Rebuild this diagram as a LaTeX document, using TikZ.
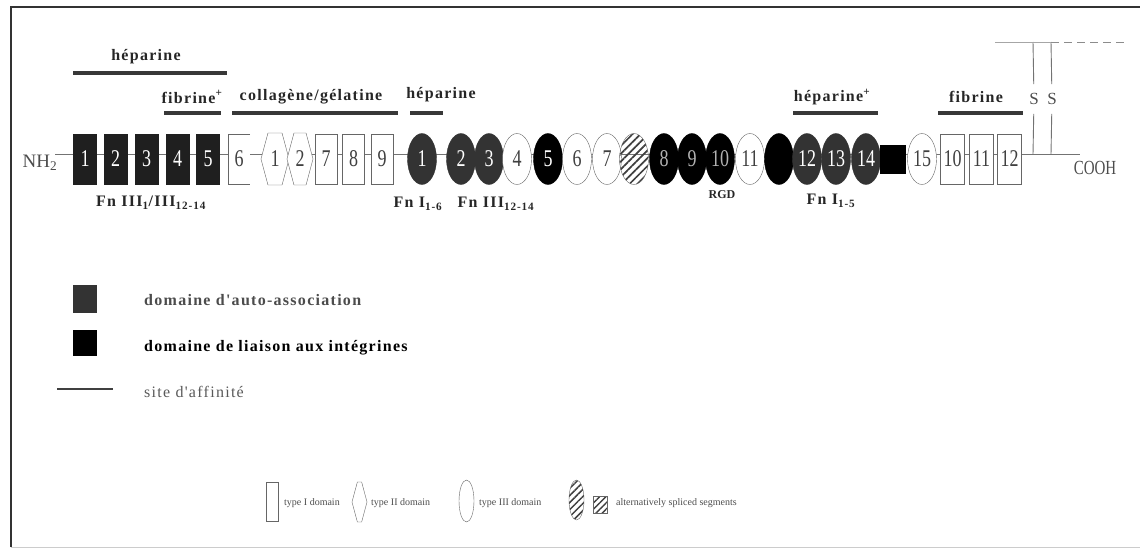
\documentclass[tikz,border=0pt]{standalone}
\usepackage{fontspec}
\setmainfont{Liberation Serif}
\newfontfamily\lblfont[LetterSpace=8]{Liberation Serif}
\newfontfamily\numfont[FakeStretch=0.75]{Liberation Serif}
\usepackage{tikz}
\usetikzlibrary{shapes.geometric, shapes.symbols, patterns.meta}

\begin{document}
\begin{tikzpicture}[
  x=1pt, y=-1pt,
  box/.style={
    draw=black!60,
    fill=white,
    minimum width=23pt,
    minimum height=50pt,
    inner sep=0pt,
    text=black!75,
    font=\fontsize{24}{24}\numfont
  },
  autobox/.style={box, draw=black!88, fill=black!88, text=white},
  hexa/.style={box, signal, signal to=west and east, signal pointer angle=150,
    minimum width=28pt, minimum height=52pt},
  oval/.style={box, ellipse, minimum width=29pt, minimum height=51pt},
  autooval/.style={oval, draw=black!80, fill=black!80, text=white},
  integoval/.style={oval, draw=black, fill=black, text=black!30},
  splice/.style={oval, draw=black!60,
    pattern={Lines[angle=45, distance=5.5pt, line width=1.7pt]}, pattern color=black!75},
  label/.style={font=\fontsize{16}{18}\lblfont\bfseries, text=black!85, inner sep=1pt},
  site/.style={line width=3.4pt, draw=black!78},
  bond/.style={line width=0.9pt, draw=black!55},
  small/.style={font=\fontsize{10}{12}\selectfont, text=black!70, anchor=west, inner sep=0pt}
]
  % frame
  \useasboundingbox (0,0) rectangle (1140,549);
  \draw[line width=2pt, black!80] (11,547) -- (11,7) -- (1140,7);
  \draw[line width=1pt, black!20] (11,547) -- (1140,547);

  % backbone
  \coordinate (nterm) at (55,154);
  \coordinate (cterm) at (1080,154);
  \draw[bond] (nterm) -- (cterm);
  \node[font=\fontsize{19}{19}\selectfont, text=black!70, inner sep=0pt] (nh) at (40,163) {NH\textsubscript{2}};
  \node[font=\fontsize{20}{20}\numfont, text=black!70, inner sep=0pt] (cooh) at (1095,168) {COOH};

  % type I (self-association)
  \node[autobox] (d1) at (85,159) {1};
  \node[autobox] (d2) at (115.5,159) {2};
  \node[autobox] (d3) at (146.5,159) {3};
  \node[autobox] (d4) at (177.5,159) {4};
  \node[autobox] (d5) at (208,159) {5};
  \node[box, draw=none, minimum width=22pt] (d6) at (239,159) {6};
  \draw[black!60] (d6.north east) -- (d6.north west) -- (d6.south west) -- (d6.south east);

  % type II
  \node[hexa] (h1) at (275,159) {1};
  \node[hexa, minimum width=26pt] (h2) at (300,159) {2};

  \node[box, minimum width=22pt] (d7) at (326,159) {7};
  \node[box, minimum width=22pt] (d8) at (353.5,159) {8};
  \node[box, minimum width=22pt] (d9) at (382,159) {9};

  % type III
  \node[autooval] (t1) at (422,159) {1};
  \node[autooval] (t2) at (461,159) {2};
  \node[autooval] (t3) at (489,159) {3};
  \node[oval] (t4) at (517,159) {4};
  \node[integoval, text=white] (t5) at (548,159) {5};
  \node[oval] (t6) at (577,159) {6};
  \node[oval] (t7) at (607,159) {7};
  \node[splice] (eiiib) at (634,159) {};
  \node[integoval] (t8) at (664,159) {8};
  \node[integoval] (t9) at (692,159) {9};
  \node[integoval] (t10) at (720,159) {10};
  \node[oval] (t11) at (750,159) {11};
  \node[integoval] (eiiia) at (779,159) {};
  \node[autooval] (t12) at (807,159) {12};
  \node[autooval] (t13) at (836,159) {13};
  \node[autooval] (t14) at (866,159) {14};
  \node[box, fill=black, draw=black, minimum width=25pt, minimum height=28pt] (iiics) at (892.5,159) {};
  \node[oval] (t15) at (922,159) {15};

  \node[box, minimum width=24pt] (d10) at (952.5,159) {10};
  \node[box, minimum width=24pt] (d11) at (981.5,159) {11};
  \node[box, minimum width=24pt] (d12) at (1009.5,159) {12};

  % disulfide bridge
  \coordinate (s1b) at (1033,154);
  \coordinate (s2b) at (1051,154);
  \coordinate (s1t) at (1033,42);
  \coordinate (s2t) at (1051,42);
  \coordinate (dimer) at (995,42);
  \coordinate (dimerend) at (1127,42);
  \node[font=\fontsize{17}{17}\selectfont, text=black!70, inner sep=9pt] (s1) at (1034,99) {S};
  \node[font=\fontsize{17}{17}\selectfont, text=black!70, inner sep=9pt] (s2) at (1052,99) {S};
  \draw[bond] (s1b) -- (s1) -- (s1t);
  \draw[bond] (s2b) -- (s2) -- (s2t);
  \draw[bond, black!35] (dimer) -- (s2t);
  \draw[bond, black!45, dash pattern=on 8pt off 5pt] (s2t) -- (dimerend);

  % binding sites
  \node[label] (hep1) at (146,57) {héparine};
  \draw[site] (73,73) -- (227,73);
  \node[label] (fib1) at (192,97) {fibrine\textsuperscript{+}};
  \draw[site] (164,113) -- (221,113);
  \node[label] (coll) at (311,97) {collagène/gélatine};
  \draw[site] (232,113) -- (398,113);
  \node[label] (hep2) at (441,95) {héparine};
  \draw[site] (410,113) -- (443,113);
  \node[label] (hep3) at (832,97) {héparine\textsuperscript{+}};
  \draw[site] (793,113) -- (878,113);
  \node[label] (fib2) at (976,97) {fibrine};
  \draw[site] (938,113) -- (1023,113);

  \node[label] (fn1) at (151,203) {Fn III\textsubscript{1}/III\textsubscript{12-14}};
  \node[label] (fn2) at (418,204) {Fn I\textsubscript{1-6}};
  \node[label] (fn3) at (496,204) {Fn III\textsubscript{12-14}};
  \node[label, font=\fontsize{12}{12}\selectfont\bfseries] (rgd) at (722,195) {RGD};
  \node[label] (fn4) at (831,201) {Fn I\textsubscript{1-5}};

  % legend
  \node[draw=black!80, fill=black!80, minimum width=23pt, minimum height=27pt, inner sep=0pt] (keyauto) at (84.5,298.5) {};
  \node[label, anchor=west, text=black!70] (keyautotxt) at (143,300) {domaine d'auto-association};
  \node[draw=black, fill=black, minimum width=23pt, minimum height=25pt, inner sep=0pt] (keyinteg) at (84.5,342.5) {};
  \node[label, anchor=west, text=black] (keyintegtxt) at (143,348) {domaine de liaison aux intégrines};
  \draw[line width=2pt, black!75] (57,389) -- (113,389);
  \node[label, anchor=west, text=black!65, font=\fontsize{16}{18}\lblfont] (keysite) at (143,392) {site d'affinité};

  \node[box, minimum width=12pt, minimum height=39pt] (keyi) at (272,501.5) {};
  \node[small] (keyitxt) at (284,503) {type I domain};
  \node[hexa, minimum width=15pt, minimum height=40pt] (keyii) at (359.5,502) {};
  \node[small] (keyiitxt) at (371,503) {type II domain};
  \node[oval, minimum width=15pt, minimum height=42pt] (keyiii) at (466.5,501) {};
  \node[small] (keyiiitxt) at (479,503) {type III domain};
  \node[splice, minimum width=15pt, minimum height=40pt,
    pattern={Lines[angle=45, distance=5pt, line width=1.5pt]}] (keyeo) at (576.5,500) {};
  \node[box, minimum width=14pt, minimum height=17pt,
    pattern={Lines[angle=45, distance=4.5pt, line width=1.4pt]}, pattern color=black!75] (keyes) at (600,504.5) {};
  \node[small] (keyestxt) at (616,503) {alternatively spliced segments};
\end{tikzpicture}
\end{document}
